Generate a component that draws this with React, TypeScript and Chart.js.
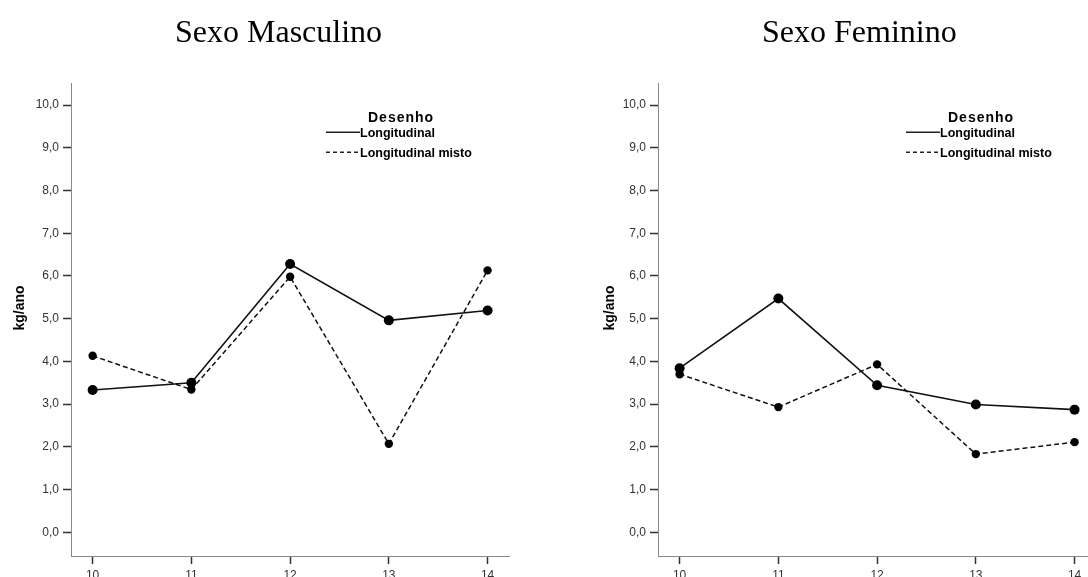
import React, { useEffect, useRef } from "react";
import { Chart, registerables } from "chart.js";

Chart.register(...registerables);

const ages = [10, 11, 12, 13, 14];
const yTicks = [0, 1, 2, 3, 4, 5, 6, 7, 8, 9, 10];
const mascLongitudinal = [3.33, 3.5, 6.28, 4.96, 5.19];
const mascMisto = [4.13, 3.34, 5.98, 2.07, 6.13];
const femLongitudinal = [3.84, 5.47, 3.44, 2.99, 2.87];
const femMisto = [3.7, 2.93, 3.93, 1.83, 2.11];
const seriesNames = ["Longitudinal", "Longitudinal misto"];
const legendTitle = "Desenho";
const yAxisTitle = "kg/ano";
const panelTitles = ["Sexo Masculino", "Sexo Feminino"];

const CW = 588;
const CH = 600;

const decorPlugin = {
  id: "panelDecor",
  afterDraw(chart: any, _args: any, opts: any) {
    const ctx = chart.ctx as CanvasRenderingContext2D;
    ctx.save();
    // panel title
    ctx.fillStyle = "#000";
    ctx.font = '32px "Liberation Serif", "Times New Roman", serif';
    ctx.textAlign = "left";
    ctx.textBaseline = "alphabetic";
    ctx.fillText(opts.title, 175, 42);

    // y axis title
    ctx.save();
    ctx.translate(opts.ylabelX, 308);
    ctx.rotate(-Math.PI / 2);
    ctx.font = 'bold 14px "Liberation Sans", Arial, sans-serif';
    ctx.textAlign = "center";
    ctx.textBaseline = "middle";
    ctx.fillStyle = "#000";
    ctx.fillText(yAxisTitle, 0, 0);
    ctx.restore();

    // legend
    const lx = opts.legendX;
    const textX = lx + 34;
    ctx.font = 'bold 14px "Liberation Sans", Arial, sans-serif';
    (ctx as any).letterSpacing = "1px";
    ctx.textAlign = "left";
    ctx.fillStyle = "#000";
    ctx.fillText(legendTitle, textX + 8, 122);
    (ctx as any).letterSpacing = "0px";
    ctx.font = 'bold 12.5px "Liberation Sans", Arial, sans-serif';
    const rows = [
      { y: 132.3, base: 136.5 },
      { y: 152.3, base: 156.5 },
    ];
    chart.data.datasets.forEach((ds: any, i: number) => {
      const r = rows[i];
      ctx.beginPath();
      ctx.strokeStyle = "#222";
      ctx.lineWidth = 1.6;
      ctx.setLineDash(ds.borderDash ? [4, 3] : []);
      ctx.moveTo(lx, r.y);
      ctx.lineTo(textX, r.y);
      ctx.stroke();
      ctx.setLineDash([]);
      ctx.fillText(ds.label, textX, r.base);
    });
    ctx.restore();
  },
};

function Panel(props: {
  title: string;
  longitudinal: number[];
  misto: number[];
  legendX: number;
  ylabelX: number;
  left: number;
}) {
  const ref = useRef<HTMLCanvasElement | null>(null);
  useEffect(() => {
    if (!ref.current) return;
    const tickFont = { family: '"Liberation Sans", Arial, sans-serif', size: 12 };
    const chart = new Chart(ref.current, {
      type: "line",
      data: {
        datasets: [
          {
            label: seriesNames[0],
            data: ages.map((a, i) => ({ x: a, y: props.longitudinal[i] })),
            borderColor: "#111",
            borderWidth: 1.6,
            pointRadius: 5,
            pointBackgroundColor: "#000",
            pointBorderColor: "#000",
            pointBorderWidth: 0,
            tension: 0,
          },
          {
            label: seriesNames[1],
            data: ages.map((a, i) => ({ x: a, y: props.misto[i] })),
            borderColor: "#111",
            borderWidth: 1.5,
            borderDash: [5, 3],
            pointRadius: 4.2,
            pointBackgroundColor: "#000",
            pointBorderColor: "#000",
            pointBorderWidth: 0,
            tension: 0,
          },
        ],
      },
      options: {
        animation: false,
        responsive: false,
        devicePixelRatio: 1,
        layout: { padding: { top: 83, right: 78.7, left: 0, bottom: 0 } },
        plugins: {
          legend: { display: false },
          tooltip: { enabled: false },
          panelDecor: {
            title: props.title,
            legendX: props.legendX,
            ylabelX: props.ylabelX,
          },
        } as any,
        scales: {
          x: {
            type: "linear",
            min: 9.781,
            max: 14.22,
            afterBuildTicks: (s: any) => {
              s.ticks = ages.map((v) => ({ value: v }));
            },
            afterFit: (s: any) => {
              s.height = 44;
            },
            ticks: {
              font: tickFont,
              color: "#333",
              padding: 4,
              maxRotation: 0,
              callback: (v: any) => String(v),
            },
            grid: {
              drawOnChartArea: false,
              drawTicks: true,
              tickLength: 8,
              tickColor: "#333",
              tickWidth: 1.5,
            },
            border: { color: "#888", width: 1 },
          },
          y: {
            type: "linear",
            min: -0.555,
            max: 10.515,
            afterBuildTicks: (s: any) => {
              s.ticks = yTicks.map((v) => ({ value: v }));
            },
            afterFit: (s: any) => {
              s.width = 71;
            },
            ticks: {
              font: tickFont,
              color: "#333",
              padding: 4,
              callback: (v: any) => Number(v).toFixed(1).replace(".", ","),
            },
            grid: {
              drawOnChartArea: false,
              drawTicks: true,
              tickLength: 8,
              tickColor: "#333",
              tickWidth: 1.5,
            },
            border: { color: "#888", width: 1 },
          },
        },
      },
      plugins: [decorPlugin as any],
    });
    return () => chart.destroy();
  }, []);
  return (
    <canvas
      ref={ref}
      width={CW}
      height={CH}
      style={{ position: "absolute", left: props.left, top: 0, width: CW, height: CH }}
    />
  );
}

export default function App() {
  return (
    <div
      style={{
        position: "fixed",
        left: 0,
        top: 0,
        width: 1088,
        height: 577,
        overflow: "hidden",
        background: "#fff",
      }}
    >
      <Panel
        title={panelTitles[0]}
        longitudinal={mascLongitudinal}
        misto={mascMisto}
        legendX={326}
        ylabelX={20}
        left={0}
      />
      <Panel
        title={panelTitles[1]}
        longitudinal={femLongitudinal}
        misto={femMisto}
        legendX={319}
        ylabelX={23}
        left={587}
      />
    </div>
  );
}
